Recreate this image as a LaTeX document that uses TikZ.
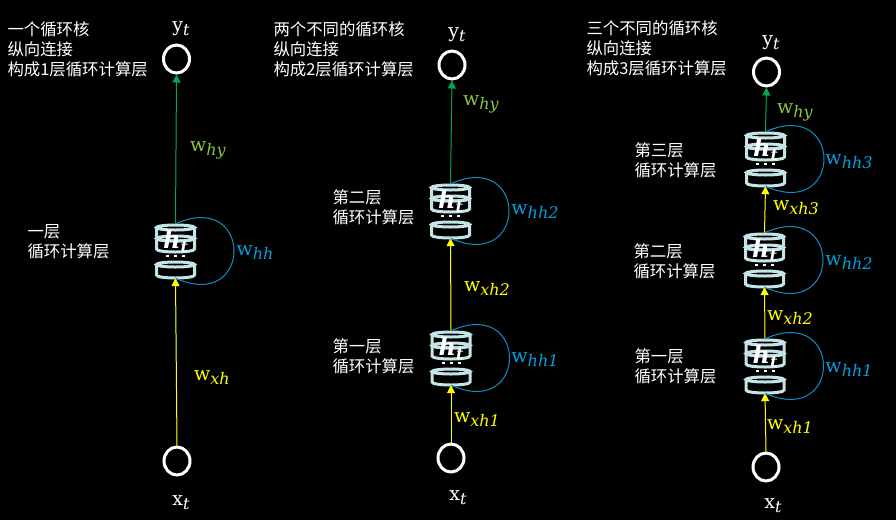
\documentclass[tikz,border=0pt]{standalone}
\usepackage{fontspec}
\setmainfont{DejaVu Serif}
\newfontfamily\cjk{Noto Sans CJK SC}
\usetikzlibrary{arrows.meta,shapes.geometric}
\definecolor{drumc}{HTML}{C4E4E8}
\definecolor{arrg}{HTML}{00A651}
\definecolor{arry}{HTML}{FFFF00}
\definecolor{loopc}{HTML}{0F8FC4}
\definecolor{lblb}{HTML}{00A0DC}
\definecolor{lblg}{HTML}{8CC63F}
\tikzset{
 x=1pt,y=-1pt,
 io/.style={ellipse,draw=white,line width=3pt,fill=black,minimum width=26pt,minimum height=28pt,inner sep=0pt},
 cellbox/.style={minimum width=41pt,minimum height=54pt,inner sep=0pt,draw=none},
 drum/.style={draw=drumc,line width=3pt,fill=none},
 cjkt/.style={text=white,font=\cjk\fontsize{16.4}{20}\selectfont,align=left,anchor=west,inner sep=0pt,xshift=-0.7pt},
 sym/.style={text=white,font=\fontsize{19}{20}\selectfont,inner sep=0pt,yshift=-2pt},
 wg/.style={sym,text=lblg},
 wy/.style={sym,text=arry},
 wb/.style={sym,text=lblb},
 up/.style={line width=1pt,-{Triangle[length=8pt,width=8pt]}},
 loopl/.style={draw=loopc,line width=1pt},
}
\newcommand{\drumat}[2]{%
  \draw[drum] (#1-19,#2+3.5) -- (#1-19,#2+14) .. controls (#1-19,#2+18) and (#1+19,#2+18) .. (#1+19,#2+14) -- (#1+19,#2+3.5);
  \draw[drum] (#1,#2+3.5) ellipse[x radius=19pt,y radius=2.5pt];
}
\newcommand{\cellat}[3]{% name, cx, top
  \node[cellbox] (#1) at (#2,#3+27) {};
  \drumat{#2}{#3+11}
  \drumat{#2}{#3}
  \drumat{#2}{#3+37}
  \foreach \d in {-8,0,8} \fill[white] (#2+\d-1.5,#3+31) rectangle (#2+\d+1.5,#3+33);
  \node[text=white,inner sep=0pt,font=\fontsize{24}{25}\selectfont\bfseries] at (#2,#3+17.5) {\textit{h}\raisebox{-4pt}{\fontsize{16}{16}\selectfont\textit{t}}};
}
\newcommand{\loopat}[3]{% cell name, bulge, ...
  \draw[loopl] (#1.north) .. controls +(#2,-#3) and ([shift={(#2,#3)}]#1.south) .. (#1.south);
}
\newcommand{\wl}[2]{w\raisebox{-4pt}{\fontsize{16}{16}\selectfont\textit{#1}\textit{#2}}}
\newcommand{\st}[1]{#1\raisebox{-4pt}{\fontsize{16}{16}\selectfont\textit{t}}}
\begin{document}
\begin{tikzpicture}
\useasboundingbox (0,0) rectangle (896,520);
\fill[black] (0,0) rectangle (896,520);
% column 1
\node[cjkt] (t1) at (8,49) {一个循环核\\纵向连接\\构成1层循环计算层};
\cellat{c1}{175.5}{224}
\node[io] (y1) at (176.5,59) {};
\node[io] (x1) at (177,461) {};
\draw[up,draw=arrg,fill=arrg] (c1.north) -- (y1.south);
\draw[up,draw=arry,fill=arry] (x1.north) -- (c1.south);
\loopat{c1}{78}{35}
\node[sym] (ly1) at (181,27) {\st{y}};
\node[sym] (lx1) at (181,501) {\st{x}};
\node[wg] (a1) at (208,148) {\wl{hy}{}};
\node[wb] (a2) at (255,251) {\wl{hh}{}};
\node[wy] (a3) at (212,376) {\wl{xh}{}};
\node[cjkt] (n1) at (28,242) {一层\\循环计算层};
% column 2
\node[cjkt] (t2) at (274,49) {两个不同的循环核\\纵向连接\\构成2层循环计算层};
\cellat{c22}{450.5}{184}
\cellat{c21}{451}{331}
\node[io] (y2) at (452,65) {};
\node[io] (x2) at (451,458) {};
\draw[up,draw=arrg,fill=arrg] (c22.north) -- (y2.south);
\draw[up,draw=arry,fill=arry] (c21.north) -- (c22.south);
\draw[up,draw=arry,fill=arry] (x2.north) -- (c21.south);
\loopat{c22}{78}{35}
\loopat{c21}{78}{35}
\node[sym] (ly2) at (457,33) {\st{y}};
\node[sym] (lx2) at (458,496) {\st{x}};
\node[wg] (b1) at (481,102) {\wl{hy}{}};
\node[wb] (b2) at (535,210) {\wl{hh}{2}};
\node[wy] (b3) at (487,287) {\wl{xh}{2}};
\node[wb] (b4) at (535,358) {\wl{hh}{1}};
\node[wy] (b5) at (477,418) {\wl{xh}{1}};
\node[cjkt] (n22) at (333,207) {第二层\\循环计算层};
\node[cjkt] (n21) at (333,356) {第一层\\循环计算层};
% column 3
\node[cjkt] (t3) at (587,48) {三个不同的循环核\\纵向连接\\构成3层循环计算层};
\cellat{c33}{765.5}{132}
\cellat{c32}{764.5}{233}
\cellat{c31}{765}{339}
\node[io] (y3) at (766.5,72) {};
\node[io] (x3) at (766,467) {};
\draw[up,draw=arrg,fill=arrg] (c33.north) -- (y3.south);
\draw[up,draw=arry,fill=arry] (c32.north) -- (c33.south);
\draw[up,draw=arry,fill=arry] (c31.north) -- (c32.south);
\draw[up,draw=arry,fill=arry] (x3.north) -- (c31.south);
\loopat{c33}{78}{35}
\loopat{c32}{78}{35}
\loopat{c31}{78}{35}
\node[sym] (ly3) at (771,41) {\st{y}};
\node[sym] (lx3) at (773,504) {\st{x}};
\node[wg] (d1) at (795,110) {\wl{hy}{}};
\node[wb] (d2) at (849,160) {\wl{hh}{3}};
\node[wy] (d3) at (796,206) {\wl{xh}{3}};
\node[wb] (d4) at (849,261) {\wl{hh}{2}};
\node[wy] (d5) at (790,316) {\wl{xh}{2}};
\node[wb] (d6) at (849,368) {\wl{hh}{1}};
\node[wy] (d7) at (790,425) {\wl{xh}{1}};
\node[cjkt] (n33) at (635,160) {第三层\\循环计算层};
\node[cjkt] (n32) at (634,261) {第二层\\循环计算层};
\node[cjkt] (n31) at (635,366) {第一层\\循环计算层};
\end{tikzpicture}
\end{document}
